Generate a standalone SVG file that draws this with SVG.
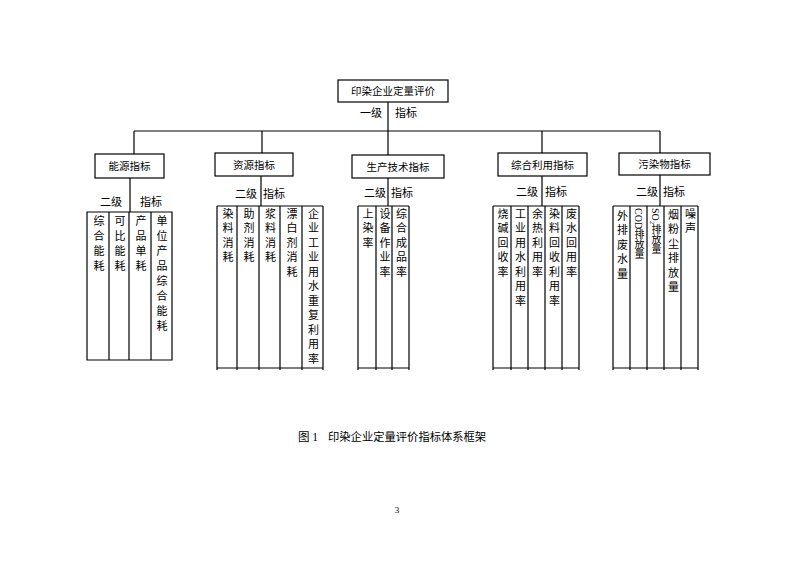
<svg xmlns="http://www.w3.org/2000/svg" width="793" height="561" viewBox="0 0 793 561">
<style>
.ln{stroke:#000;stroke-width:1.2;fill:none}
.box{stroke:#000;stroke-width:1.2;fill:#fff}
text{font-family:"Liberation Serif","Noto Sans CJK SC",serif;fill:#000}
.lbl{font-size:10.5px;text-anchor:middle}
.lv{font-size:11px}
.col{font-size:11px;writing-mode:vertical-rl;text-orientation:mixed;letter-spacing:3.5px}
.col1{letter-spacing:4px}
.sm{font-size:10px;letter-spacing:0}
</style>
<rect width="793" height="561" fill="#fff"/>
<g id="connectors">
<path class="ln" d="M388 102V131M134 131H660M134 131V154M262 131V153M388 131V155M542 131V153M660 131V153"/>
<path class="ln" d="M130 178V212M261 176V206M388 178V206M542 176V206M660 175V206"/>
</g>
<g id="root">
<rect class="box" x="338" y="80" width="110" height="22"/>
<text class="lbl" x="393" y="95">印染企业定量评价</text>
<text class="lv" x="360" y="117">一级</text>
<text class="lv" x="395" y="117">指标</text>
</g>
<g id="n1">
<rect class="box" x="95" y="154" width="69" height="24"/>
<text class="lbl" x="129.5" y="170">能源指标</text>
<text class="lv" x="100" y="206">二级</text>
<text class="lv" x="140" y="206">指标</text>
<path class="ln" d="M87 212H172V360H87ZM109 212V360M129 212V360M151 212V360"/>
<text class="col col1" x="98" y="215">综合能耗</text>
<text class="col col1" x="119" y="215">可比能耗</text>
<text class="col col1" x="140" y="215">产品单耗</text>
<text class="col col1" x="161" y="215">单位产品综合能耗</text>
</g>
<g id="n2">
<rect class="box" x="215" y="153" width="78" height="23"/>
<text class="lbl" x="254" y="169">资源指标</text>
<text class="lv" x="235" y="198">二级</text>
<text class="lv" x="263" y="198">指标</text>
<path class="ln" d="M217 206H323M217 368H323M217 206V370M237 206V370M259 206V370M280 206V370M302 206V370M323 206V370"/>
<text class="col" x="227" y="208">染料消耗</text>
<text class="col" x="248" y="208">助剂消耗</text>
<text class="col" x="269.5" y="208">浆料消耗</text>
<text class="col" x="291" y="208">漂白剂消耗</text>
<text class="col" x="312.5" y="208">企业工业用水重复利用率</text>
</g>
<g id="n3">
<rect class="box" x="352" y="155" width="92" height="23"/>
<text class="lbl" x="398" y="170.5">生产技术指标</text>
<text class="lv" x="364" y="197">二级</text>
<text class="lv" x="391" y="197">指标</text>
<path class="ln" d="M358 206H409M358 368H409M358 206V370M376 206V370M392 206V370M409 206V370"/>
<text class="col" x="367" y="208">上染率</text>
<text class="col" x="384" y="208">设备作业率</text>
<text class="col" x="400.5" y="208">综合成品率</text>
</g>
<g id="n4">
<rect class="box" x="498" y="153" width="89" height="23"/>
<text class="lbl" x="542.5" y="169">综合利用指标</text>
<text class="lv" x="516" y="196">二级</text>
<text class="lv" x="545" y="196">指标</text>
<path class="ln" d="M493 206H579M493 368H579M493 206V370M511 206V370M528 206V370M545 206V370M562 206V370M579 206V370"/>
<text class="col" x="502" y="208">烧碱回收率</text>
<text class="col" x="519.5" y="208">工业用水利用率</text>
<text class="col" x="536.5" y="208">余热利用率</text>
<text class="col" x="553.5" y="208">染料回收利用率</text>
<text class="col" x="570.5" y="208">废水回用率</text>
</g>
<g id="n5">
<rect class="box" x="619" y="153" width="91" height="22"/>
<text class="lbl" x="664.5" y="168">污染物指标</text>
<text class="lv" x="636" y="196">二级</text>
<text class="lv" x="663" y="196">指标</text>
<path class="ln" d="M613 206H698M613 368H698M613 206V370M630 206V370M647 206V370M664 206V370M681 206V370M698 206V370"/>
<text class="col" x="621.5" y="210">外排废水量</text>
<text class="col sm" x="638.5" y="208">COD排放量</text>
<text class="col sm" x="655.5" y="208">SO₂排放量</text>
<text class="col" x="672.5" y="209">烟粉尘排放量</text>
<text class="col" x="689.5" y="208">噪声</text>
</g>
<text x="298" y="441" font-size="11.5">图 1</text>
<text x="328" y="441" font-size="11.3">印染企业定量评价指标体系框架</text>
<text x="397" y="513" font-size="9" text-anchor="middle">3</text>
</svg>
